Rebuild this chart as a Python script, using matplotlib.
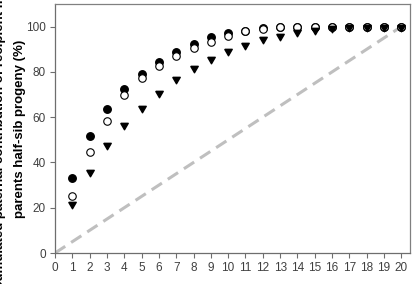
import matplotlib
matplotlib.use("Agg")
import matplotlib.pyplot as plt
import numpy as np

x = list(range(1, 21))
filled = [33.2, 51.9, 63.7, 72.4, 79.2, 84.2, 88.6, 92.5, 95.4, 97.0,
          98.2, 99.2, 99.7, 100, 100, 100, 100, 100, 100, 100]
open_c = [25.2, 44.4, 58.3, 69.8, 77.3, 82.7, 86.9, 90.4, 93.2, 95.8,
          97.9, 99.0, 99.8, 100, 100, 100, 100, 100, 100, 100]
tri = [21.7, 36.0, 47.5, 56.5, 63.9, 70.9, 76.8, 81.9, 85.8, 89.4,
       92.0, 94.4, 96.0, 97.5, 98.7, 99.4, 100, 100, 100, 100]
diag_x = [0, 20]
diag_y = [0, 100]
xticks = list(range(0, 21))
yticks = [0, 20, 40, 60, 80, 100]
ylabel1 = "Accumulated paternal contribution of recipient maternal"
ylabel2 = "parents half-sib progeny (%)"

W, H = 413, 284
fig = plt.figure(figsize=(W/100, H/100), dpi=100)
ax = fig.add_axes([55/W, 1-253/H, (410-55)/W, (253-4)/H])

fam = ['Liberation Sans Narrow', 'Liberation Sans', 'DejaVu Sans']

# down-pointing triangle centred on its centroid
tri_marker = [(-1.0, 0.58), (1.0, 0.58), (0.0, -1.15), (-1.0, 0.58)]

ax.plot(diag_x, diag_y, color='#BFBFBF', lw=2.2, dashes=(4, 2.3), zorder=1)
ax.plot(x, filled, 'o', color='black', ms=5.4, zorder=2)
ax.plot(x, open_c, 'o', mfc='white', mec='black', mew=0.8, ms=5.4, zorder=3)
ax.plot(x, tri, marker=tri_marker, ls='none', color='black', ms=6.2, zorder=4)

ax.set_xlim(0, 20.5)
ax.set_ylim(0, 110)
ax.set_xticks(xticks)
ax.set_yticks(yticks)
for s in ax.spines.values():
    s.set_color('#808080')
    s.set_linewidth(0.9)
ax.spines['left'].set_color('#6e6e6e')
ax.spines['bottom'].set_color('#6e6e6e')
ax.tick_params(direction='out', length=3.5, width=0.8, color='#6e6e6e',
               labelsize=8.5, labelcolor='#404040', pad=3)
ax.tick_params(top=False, right=False)
for lab in ax.get_xticklabels() + ax.get_yticklabels():
    lab.set_family(fam)

cy = 1 - 128.5/H
fig.text(0/W, cy, ylabel1, rotation=90, ha='center', va='center',
         fontsize=9.5, fontweight='bold', family=fam)
fig.text(20/W, cy, ylabel2, rotation=90, ha='center', va='center',
         fontsize=9.5, fontweight='bold', family=fam)

fig.savefig('out.png', dpi=100)
